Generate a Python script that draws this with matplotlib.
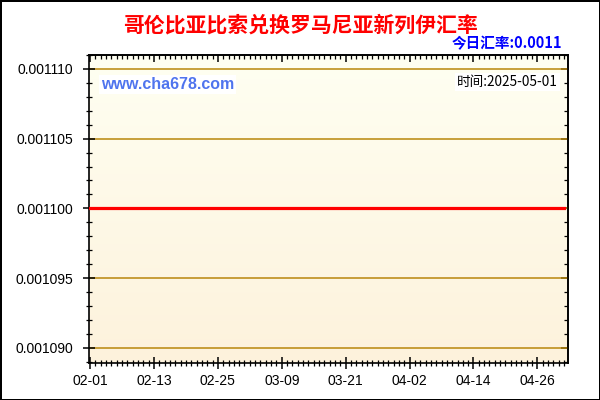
import numpy as np
import pandas as pd
import matplotlib
matplotlib.use("Agg")
import matplotlib.pyplot as plt
import matplotlib.dates as mdates

plt.rcParams['font.family'] = ['Liberation Sans', 'Noto Sans CJK SC', 'DejaVu Sans']

# data: COP -> RON daily rate, flat at 0.0011
dates = pd.date_range("2025-02-01", "2025-05-01", freq="D")
rates = [0.0011] * len(dates)
tick_dates = ["2025-02-01", "2025-02-13", "2025-02-25", "2025-03-09",
              "2025-03-21", "2025-04-02", "2025-04-14", "2025-04-26"]
tick_labels = ["02-01", "02-13", "02-25", "03-09", "03-21", "04-02", "04-14", "04-26"]
y_ticks = [0.001090, 0.001095, 0.001100, 0.001105, 0.001110]
y_labels = ["0.001090", "0.001095", "0.001100", "0.001105", "0.001110"]

title = "哥伦比亚比索兑换罗马尼亚新列伊汇率"
today_rate = "今日汇率:0.0011"
stamp = "时间:2025-05-01"
site = "www.cha678.com"

fig = plt.figure(figsize=(6, 4), dpi=100, facecolor='white',
                 edgecolor='black', linewidth=2)
ax = fig.add_axes([89/600, 1-363/400, (568-89)/600, (363-55)/400])

x0 = mdates.date2num(pd.Timestamp("2025-02-01")) - 0.2
x1 = mdates.date2num(pd.Timestamp("2025-05-01")) + 0.75
ylo, yhi = 0.00108891, 0.00111093

# background gradient, light on top, warmer at the bottom
grad = np.linspace(0, 1, 256).reshape(-1, 1)
top_c = np.array([255, 255, 242]) / 255
bot_c = np.array([253, 242, 220]) / 255
img = top_c * (1 - grad[..., None]) + bot_c * grad[..., None]
ax.imshow(img, extent=[x0, x1, ylo, yhi], aspect='auto', zorder=0, origin='upper')

for yt in y_ticks:
    ax.axhline(yt, color='#b8860b', linewidth=1.1, zorder=1)

ax.plot(dates, rates, color='#ff0000', linewidth=2.3, zorder=3)

ax.set_xlim(x0, x1)
ax.set_ylim(ylo, yhi)

minor_y = np.arange(0.001089, 0.001111, 0.000001)
ax.set_xticks(mdates.date2num(pd.to_datetime(tick_dates)))
ax.set_xticklabels(tick_labels)
ax.xaxis.set_minor_locator(mdates.DayLocator())
ax.set_yticks(y_ticks)
ax.set_yticklabels(y_labels)
ax.set_yticks(minor_y, minor=True)

for s in ax.spines.values():
    s.set_linewidth(1.2)
ax.tick_params(axis='both', which='major', direction='inout', length=8.5, width=1.1,
               labelsize=10, colors='black')
ax.tick_params(axis='both', which='minor', direction='inout', length=4.5, width=0.9)
ax.tick_params(axis='x', pad=4)
ax.tick_params(axis='y', pad=7)

# inward ticks on top and right
top = ax.secondary_xaxis('top')
top.set_xticks(ax.get_xticks())
top.xaxis.set_minor_locator(mdates.DayLocator())
top.tick_params(which='major', direction='in', length=5, width=1.1, labeltop=False)
top.tick_params(which='minor', direction='in', length=3, width=0.9)
top.spines['top'].set_linewidth(1.2)
right = ax.secondary_yaxis('right')
right.set_yticks(y_ticks)
right.set_yticks(minor_y, minor=True)
right.tick_params(which='major', direction='in', length=5, width=1.1, labelright=False)
right.tick_params(which='minor', direction='in', length=3, width=0.9)
right.spines['right'].set_linewidth(1.2)

fig.text(0.5, 1-25/400, title, ha='center', va='center', color='#ff0000',
         fontsize=15, fontweight='bold', family=['Noto Sans CJK SC', 'DejaVu Sans'])
fig.text(562/600, 1-43/400, today_rate, ha='right', va='center', color='#0000ff',
         fontsize=10.5, fontweight='bold', family=['Noto Sans CJK SC', 'DejaVu Sans'])
ax.text(0.025, 0.905, site, transform=ax.transAxes, ha='left', va='center',
        color='#4f74ee', fontsize=11.5, fontweight='bold',
        bbox=dict(facecolor='white', edgecolor='none', pad=1.5), zorder=5)
ax.text(0.978, 0.912, stamp, transform=ax.transAxes, ha='right', va='center',
        color='black', fontsize=9.8, family=['Noto Sans CJK SC', 'DejaVu Sans'],
        bbox=dict(facecolor='white', edgecolor='none', pad=1.5), zorder=5)

fig.savefig("out.png", dpi=100, facecolor=fig.get_facecolor(), edgecolor=fig.get_edgecolor())
